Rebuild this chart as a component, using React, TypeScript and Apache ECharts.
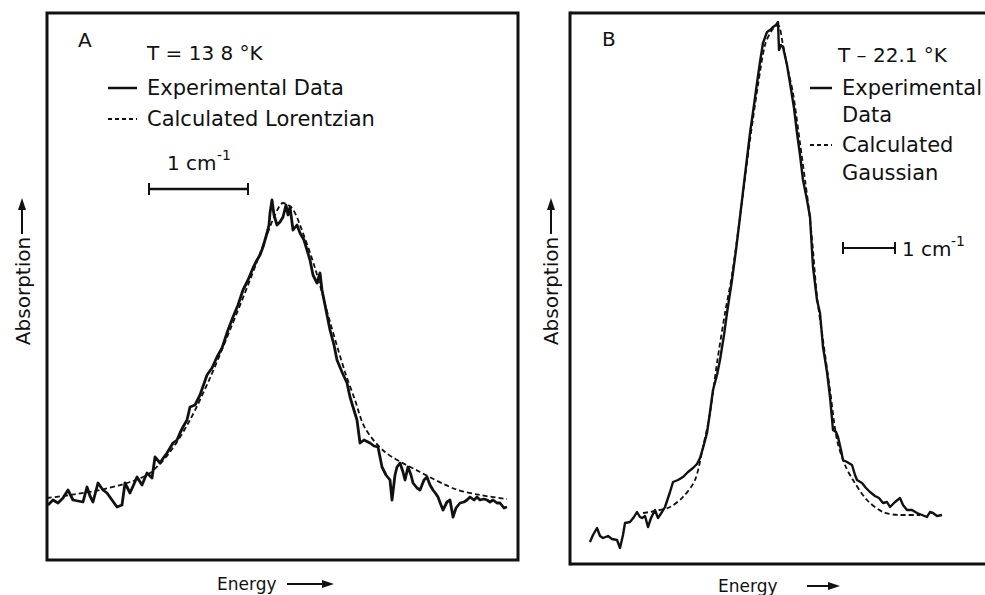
import React, { useEffect, useRef } from "react";
import * as echarts from "echarts";

// Panel A (T = 13.8 K): energy in cm^-1 (relative), absorption in arbitrary units
const expAEnergy = [0.01,0.06,0.11,0.16,0.21,0.26,0.31,0.36,0.40,0.43,0.46,0.51,0.56,0.60,0.65,0.70,0.75,0.78,0.83,0.87,0.90,0.95,1.00,1.05,1.08,1.13,1.17,1.20,1.26,1.30,1.33,1.36,1.40,1.43,1.48,1.53,1.60,1.65,1.70,1.75,1.81,1.86,1.91,1.96,2.01,2.06,2.10,2.13,2.16,2.20,2.22,2.23,2.25,2.27,2.30,2.33,2.36,2.39,2.41,2.43,2.46,2.50,2.53,2.57,2.60,2.63,2.66,2.70,2.73,2.75,2.78,2.83,2.87,2.90,2.95,3.00,3.03,3.06,3.10,3.13,3.17,3.23,3.27,3.31,3.35,3.39,3.43,3.45,3.48,3.50,3.53,3.56,3.58,3.61,3.64,3.66,3.70,3.73,3.77,3.80,3.83,3.86,3.89,3.91,3.94,3.96,4.00,4.03,4.06,4.09,4.13,4.17,4.20,4.23,4.27,4.30,4.33,4.37,4.40,4.43,4.46,4.50,4.53,4.57,4.60];
const expAAbs = [11.0,12.0,11.4,12.4,14.0,12.0,11.8,11.6,14.6,12.8,11.6,15.4,14.0,13.4,12.0,10.6,11.0,15.4,13.4,15.2,16.6,15.0,17.4,16.4,20.6,19.4,20.6,21.4,23.4,24.0,25.4,26.6,28.0,30.6,31.0,33.0,37.0,38.4,40.6,42.4,46.0,48.6,51.0,54.0,56.0,58.4,60.0,61.0,62.6,65.4,67.0,69.4,72.0,69.0,67.0,67.6,68.6,71.0,69.0,70.6,66.0,67.0,65.4,64.0,62.0,60.0,57.0,55.4,57.4,54.0,51.0,46.0,43.0,40.0,37.6,35.4,32.6,30.6,28.0,23.4,24.0,23.4,22.8,22.6,18.6,17.0,16.0,12.0,17.0,18.6,19.4,17.6,16.0,18.6,17.0,15.4,14.4,14.0,16.0,16.6,15.0,14.0,13.2,12.6,11.0,10.0,11.6,12.0,8.6,10.4,11.4,11.6,12.0,12.6,12.0,12.6,12.0,12.2,12.0,11.6,12.0,11.4,11.4,10.4,10.6];
const lorEnergy = [0.00,0.23,0.53,0.83,1.03,1.23,1.43,1.63,1.83,2.03,2.18,2.28,2.36,2.45,2.53,2.68,2.83,2.98,3.08,3.18,3.38,3.73,4.08,4.33,4.60];
const lorAbs = [12.4,13.0,14.0,15.6,17.4,21.6,28.0,36.4,46.0,56.0,64.0,69.0,71.4,70.4,67.0,58.4,47.6,37.6,32.0,26.4,21.6,17.6,14.2,13.0,12.2];

// Panel B (T = 22.1 K)
const expBEnergy = [0.40,0.46,0.54,0.60,0.66,0.76,0.84,0.94,1.00,1.06,1.10,1.20,1.28,1.34,1.40,1.44,1.50,1.56,1.62,1.70,1.76,1.84,1.90,2.00,2.06,2.16,2.26,2.36,2.46,2.54,2.60,2.66,2.74,2.80,2.86,2.94,3.00,3.08,3.14,3.24,3.32,3.40,3.50,3.60,3.68,3.74,3.80,3.86,3.94,4.00,4.06,4.12,4.16,4.18,4.22,4.26,4.34,4.40,4.48,4.54,4.60,4.66,4.74,4.80,4.86,4.94,5.00,5.06,5.14,5.20,5.26,5.32,5.36,5.42,5.46,5.54,5.64,5.70,5.74,5.84,5.92,6.00,6.10,6.18,6.26,6.34,6.40,6.50,6.60,6.66,6.74,6.84,6.94,7.04,7.14,7.20,7.26,7.34,7.44];
const expBAbs = [4.4,5.8,7.2,5.6,5.2,5.6,5.0,4.8,3.2,5.8,8.2,8.4,9.4,10.4,9.4,9.2,9.6,7.4,9.2,10.8,9.2,10.4,11.4,14.4,16.4,16.8,17.4,18.4,19.2,20.0,21.2,23.2,26.2,30.4,34.8,37.8,40.8,45.8,50.2,56.8,62.8,69.4,77.8,86.2,91.8,96.2,100.4,104.2,106.4,106.8,107.4,107.8,108.4,102.8,103.8,103.4,99.8,96.2,91.2,86.2,81.8,76.8,72.8,69.4,59.4,52.8,50.2,43.4,38.4,33.4,26.8,26.4,25.4,22.8,20.8,20.4,19.8,17.8,16.8,16.2,15.2,14.4,13.6,13.2,12.2,12.4,11.4,12.4,13.2,11.8,10.8,10.8,10.2,9.8,9.4,10.4,10.2,9.6,9.8];
const gauEnergy = [1.46,1.70,2.00,2.26,2.50,2.66,2.80,2.94,3.10,3.24,3.40,3.60,3.76,3.90,4.04,4.16,4.26,4.36,4.46,4.60,4.70,4.78,4.86,4.94,5.06,5.20,5.34,5.50,5.66,5.94,6.26,6.60,7.00];
const gauAbs = [10.2,10.6,11.4,13.4,16.8,23.4,30.2,40.2,50.2,57.8,69.4,84.8,95.8,103.8,106.8,107.8,103.8,98.8,94.2,84.2,76.8,70.8,62.8,53.4,44.8,34.8,24.8,19.8,16.8,12.8,10.4,9.8,9.8];

const zip = (xs: number[], ys: number[]) => xs.map((x, i) => [x, ys[i]]);

const INK = "#111";
const FONT = "DejaVu Sans";

function txt(text: string, x: number, y: number, size: number, extra: any = {}) {
  const { align, ...rest } = extra;
  return {
    type: "text",
    x,
    y,
    ...rest,
    style: {
      text,
      fill: INK,
      fontSize: size,
      fontFamily: FONT,
      textAlign: align || "left",
      align: align || "left",
      textVerticalAlign: "middle",
      verticalAlign: "middle",
    },
  };
}
function seg(x1: number, y1: number, x2: number, y2: number, w: number, dash?: number[]) {
  return {
    type: "line",
    shape: { x1, y1, x2, y2 },
    style: { stroke: INK, lineWidth: w, lineDash: dash || null },
  };
}
function tri(points: number[][]) {
  return { type: "polygon", shape: { points }, style: { fill: INK } };
}

export default function App() {
  const ref = useRef<HTMLDivElement>(null);
  useEffect(() => {
    if (!ref.current) return;
    const chart = echarts.init(ref.current, null, { renderer: "svg" });
    const hiddenAxis = { show: false, splitLine: { show: false } };
    const graphic: any[] = [
      // Panel B frame (open on the right, as in the cropped original)
      seg(570, 13, 985, 13, 3),
      seg(570, 564, 985, 564, 3),
      seg(570, 11.5, 570, 565.5, 3),
      // Panel A texts
      txt("A", 78, 40, 20),
      txt("T = 13 8 °K", 147, 53, 20),
      seg(108, 88, 137, 88, 2.5),
      txt("Experimental Data", 147, 88, 21),
      seg(108, 119, 137, 119, 2, [4, 3]),
      txt("Calculated Lorentzian", 147, 119, 21),
      txt("1 cm", 167, 163, 20),
      txt("-1", 217, 155, 14),
      seg(149, 189, 248, 189, 2.5),
      seg(149, 183, 149, 195, 2),
      seg(248, 183, 248, 195, 2),
      txt("Energy", 217, 584, 17),
      seg(287, 584, 324, 584, 2),
      tri([[322, 580], [334, 584], [322, 588]]),
      txt("Absorption", 23, 291, 20, { rotation: Math.PI / 2, align: "center" }),
      seg(22, 234, 22, 208, 2),
      tri([[18, 210], [22, 198], [26, 210]]),
      // Panel B texts
      txt("B", 602, 39, 20),
      txt("T – 22.1 °K", 838, 55, 20),
      seg(810, 88, 832, 88, 2.5),
      txt("Experimental", 842, 88, 21),
      txt("Data", 842, 115, 21),
      seg(810, 145, 832, 145, 2, [4, 3]),
      txt("Calculated", 842, 145, 21),
      txt("Gaussian", 842, 173, 21),
      seg(843, 248, 895, 248, 2),
      seg(843, 242, 843, 254, 2),
      seg(895, 242, 895, 254, 2),
      txt("1 cm", 902, 249, 20),
      txt("-1", 951, 241, 14),
      txt("Energy", 718, 586, 17),
      seg(807, 586, 830, 586, 2),
      tri([[828, 582], [840, 586], [828, 590]]),
      txt("Absorption", 551, 291, 20, { rotation: Math.PI / 2, align: "center" }),
      seg(551, 234, 551, 208, 2),
      tri([[547, 210], [551, 198], [555, 210]]),
    ];
    chart.setOption({
      animation: false,
      backgroundColor: "#fff",
      grid: [
        { left: 47, right: 467, top: 13, bottom: 35, show: true, borderColor: INK, borderWidth: 3 },
        { left: 570, right: 0, top: 13, bottom: 31, show: false },
      ],
      xAxis: [
        { type: "value", gridIndex: 0, min: 0, max: 4.71, ...hiddenAxis },
        { type: "value", gridIndex: 1, min: 0, max: 8.3, ...hiddenAxis },
      ],
      yAxis: [
        { type: "value", gridIndex: 0, min: 0, max: 109.4, ...hiddenAxis },
        { type: "value", gridIndex: 1, min: 0, max: 110.2, ...hiddenAxis },
      ],
      series: [
        {
          name: "Calculated Lorentzian", type: "line", xAxisIndex: 0, yAxisIndex: 0,
          data: zip(lorEnergy, lorAbs), showSymbol: false, smooth: 0.3, z: 2,
          lineStyle: { color: INK, width: 1.8, type: [5, 3] },
        },
        {
          name: "Experimental Data A", type: "line", xAxisIndex: 0, yAxisIndex: 0,
          data: zip(expAEnergy, expAAbs), showSymbol: false, z: 3,
          lineStyle: { color: INK, width: 2.8, join: "round" },
        },
        {
          name: "Calculated Gaussian", type: "line", xAxisIndex: 1, yAxisIndex: 1,
          data: zip(gauEnergy, gauAbs), showSymbol: false, smooth: 0.3, z: 2,
          lineStyle: { color: INK, width: 1.8, type: [5, 3] },
        },
        {
          name: "Experimental Data B", type: "line", xAxisIndex: 1, yAxisIndex: 1,
          data: zip(expBEnergy, expBAbs), showSymbol: false, z: 3,
          lineStyle: { color: INK, width: 2.4, join: "round" },
        },
      ],
      graphic,
    });
    return () => chart.dispose();
  }, []);
  return (
    <div
      ref={ref}
      style={{ position: "fixed", left: 0, top: 0, width: 985, height: 595, background: "#fff" }}
    />
  );
}
